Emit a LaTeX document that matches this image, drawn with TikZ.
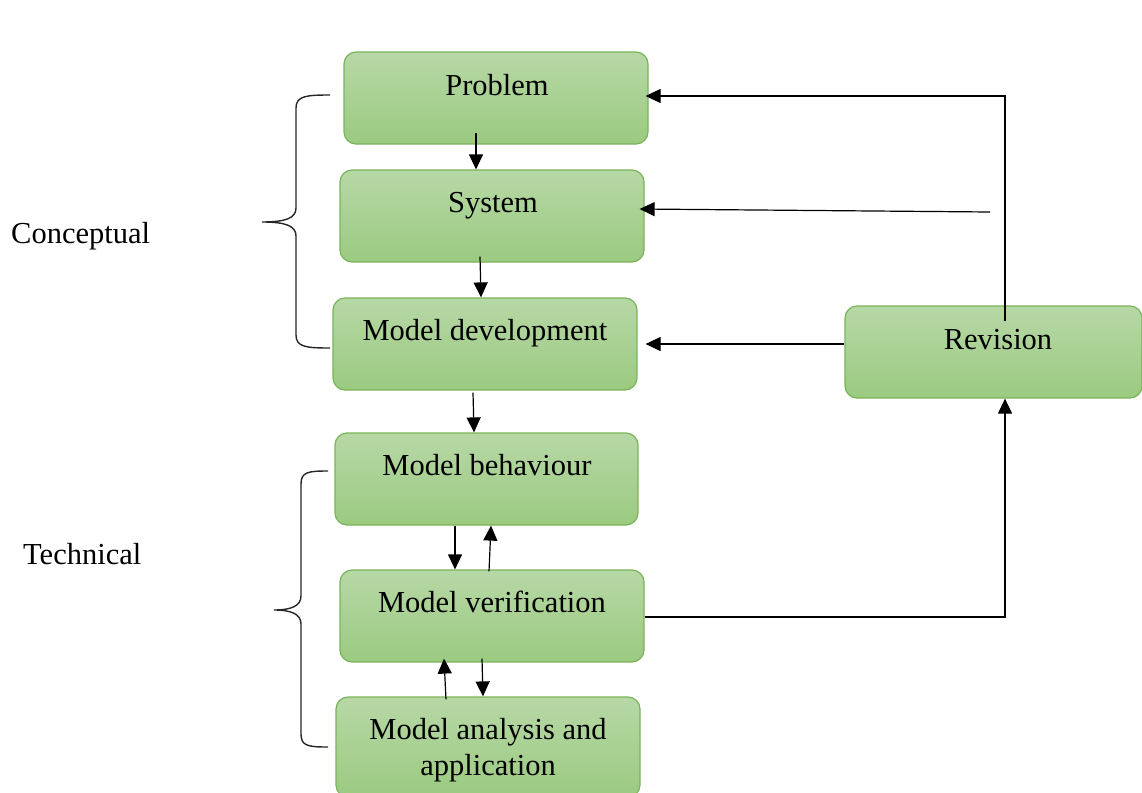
\documentclass[tikz,border=0pt]{standalone}
\usepackage{fontspec}
\setmainfont{Liberation Serif}
\usetikzlibrary{arrows.meta}
\definecolor{boxtop}{RGB}{183,216,166}
\definecolor{boxbot}{RGB}{155,202,128}
\definecolor{boxline}{RGB}{122,180,90}
\tikzset{
  box/.style={draw=boxline, line width=1.2pt, rounded corners=12pt, top color=boxtop, bottom color=boxbot, minimum width=304pt, minimum height=92pt, inner sep=0pt},
  lbl/.style={anchor=base, font=\fontsize{30.5}{36}\selectfont, text=black, inner sep=0pt},
  side/.style={anchor=base west, font=\fontsize{30.5}{36}\selectfont, text=black, inner sep=0pt},
  arr/.style={line width=1.2pt, -{Triangle[length=15pt,width=14pt]}},
  brace/.style={line width=1.4pt, black!85}
}
\begin{document}
\begin{tikzpicture}[x=1pt,y=-1pt]
\useasboundingbox (0,0) rectangle (1142,792);
\clip (0,0) rectangle (1142,792);
% boxes
\node[box] (prob) at (496,98) {};
\node[box] (sys) at (492,216) {};
\node[box] (md) at (485,344) {};
\node[box, minimum width=303pt] (beh) at (486.5,479) {};
\node[box] (ver) at (492,616) {};
\node[box, minimum height=100pt] (ana) at (488,747) {};
\node[box, minimum width=297pt] (rev) at (993.5,352) {};
% texts
\node[lbl] (probt) at (497,95) {Problem};
\node[lbl] (syst) at (493,212) {System};
\node[lbl] (mdt) at (485,340) {Model development};
\node[lbl] (beht) at (487,475) {Model behaviour};
\node[lbl] (vert) at (492,612) {Model verification};
\node[lbl] (anat1) at (488,739) {Model analysis and};
\node[lbl] (anat2) at (488,775) {application};
\node[lbl] (revt) at (998,349) {Revision};
\node[side] (conc) at (11,243) {Conceptual};
\node[side] (tech) at (23,564) {Technical};
% braces
\draw[brace] (330,95) .. controls (306,95) and (296,96) .. (296,108) -- (296,208)
  .. controls (296,218) and (286,222) .. (262,222)
  .. controls (286,222) and (296,226) .. (296,236) -- (296,335)
  .. controls (296,347) and (306,348) .. (330,348);
\draw[brace] (328,471) .. controls (308,471) and (301,472) .. (301,484) -- (301,596)
  .. controls (301,606) and (291,610) .. (274,610)
  .. controls (291,610) and (301,614) .. (301,624) -- (301,734)
  .. controls (301,746) and (308,747) .. (328,747);
% vertical connectors
\draw[arr] ([xshift=-20pt,yshift=12pt]prob.south) -- ([xshift=-16pt]sys.north);
\draw[arr] ([xshift=-12pt,yshift=6pt]sys.south) -- ([xshift=-4pt]md.north);
\draw[arr] ([xshift=-12pt,yshift=-2pt]md.south) -- ([xshift=-12.5pt]beh.north);
\draw[arr] ([xshift=-31.5pt]beh.south) -- ([xshift=-37pt]ver.north);
\draw[arr] ([xshift=-3pt,yshift=-2pt]ver.north) -- ([xshift=4.5pt]beh.south);
\draw[arr] ([xshift=-42pt,yshift=-3pt]ana.north) -- ([xshift=-48pt,yshift=4pt]ver.south);
\draw[arr] ([xshift=-10pt,yshift=4pt]ver.south) -- ([xshift=-5pt]ana.north);
% revision connectors
\draw[arr] ([yshift=8pt]rev.west) -- ([xshift=8pt]md.east);
\draw[arr] ([xshift=11.5pt,yshift=-16pt]rev.north) |- ([xshift=-3pt,yshift=2pt]prob.east);
\coordinate (sbr) at (990,212);
\draw[arr] (sbr) -- ([xshift=-5pt,yshift=7pt]sys.east);
\draw[arr] ([yshift=-1pt]ver.east) -| ([xshift=11.5pt]rev.south);
\end{tikzpicture}
\end{document}
